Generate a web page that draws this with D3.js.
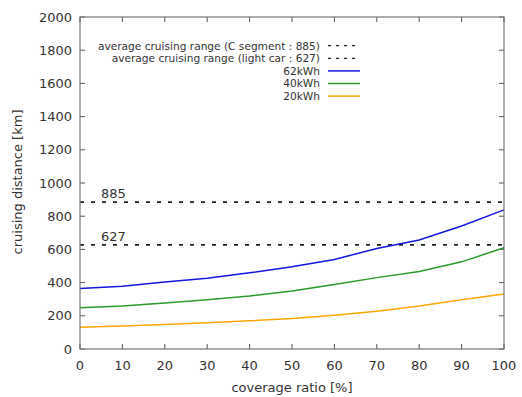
<!DOCTYPE html>
<html>
<head>
<meta charset="utf-8">
<script src="https://cdn.jsdelivr.net/npm/d3@7"></script>
<style>
  body { margin: 0; background: #fff; }
  text { font-family: "DejaVu Sans", sans-serif; fill: #333; }
</style>
</head>
<body>
<svg></svg>
<script>
// data
var coverage = [0, 10, 20, 30, 40, 50, 60, 70, 80, 90, 100];
var kwh62 = [364, 378, 404, 426, 459, 495, 539, 606, 657, 741, 838];
var kwh40 = [248, 259, 277, 297, 319, 349, 388, 430, 467, 525, 610];
var kwh20 = [131, 139, 147, 158, 170, 184, 204, 228, 259, 297, 331];
var refValues = [885, 627];
var refLabels = ["average cruising range (C segment : 885)", "average cruising range (light car : 627)"];
var seriesNames = ["62kWh", "40kWh", "20kWh"];
var seriesColors = ["#1515e0", "#2a9a2a", "#ffa500"];
var xTicks = [0, 10, 20, 30, 40, 50, 60, 70, 80, 90, 100];
var yTicks = [0, 200, 400, 600, 800, 1000, 1200, 1400, 1600, 1800, 2000];

var width = 522, height = 397;
var pLeft = 80, pRight = 504, pTop = 17, pBottom = 349;

var svg = d3.select("svg")
	.attr("width", width)
	.attr("height", height);

var x = d3.scaleLinear().domain([0, 100]).range([pLeft, pRight]);
var y = d3.scaleLinear().domain([0, 2000]).range([pBottom, pTop]);

// ticks, mirrored inward on all four sides
var ticks = svg.append("g").attr("stroke", "#555").attr("stroke-width", 1);
xTicks.forEach(function(t) {
	ticks.append("line").attr("x1", x(t)).attr("x2", x(t)).attr("y1", pBottom).attr("y2", pBottom - 5);
	ticks.append("line").attr("x1", x(t)).attr("x2", x(t)).attr("y1", pTop).attr("y2", pTop + 5);
});
yTicks.forEach(function(t) {
	ticks.append("line").attr("x1", pLeft).attr("x2", pLeft + 5).attr("y1", y(t)).attr("y2", y(t));
	ticks.append("line").attr("x1", pRight).attr("x2", pRight - 5).attr("y1", y(t)).attr("y2", y(t));
});

// tick labels
svg.append("g").selectAll("text")
		.data(xTicks)
	.enter().append("text")
		.attr("x", function(d) { return x(d); })
		.attr("y", 370)
		.attr("text-anchor", "middle")
		.attr("font-size", "13px")
		.text(function(d) { return d; });

svg.append("g").selectAll("text")
		.data(yTicks)
	.enter().append("text")
		.attr("x", 72)
		.attr("y", function(d) { return y(d) + 4.5; })
		.attr("text-anchor", "end")
		.attr("font-size", "13px")
		.text(function(d) { return d; });

// axis titles
svg.append("text")
	.attr("x", (pLeft + pRight) / 2)
	.attr("y", 392)
	.attr("text-anchor", "middle")
	.attr("font-size", "13px")
	.text("coverage ratio [%]");

svg.append("text")
	.attr("transform", "translate(22,182) rotate(-90)")
	.attr("text-anchor", "middle")
	.attr("font-size", "13px")
	.text("cruising distance [km]");

// reference lines
svg.append("g").selectAll("line")
		.data(refValues)
	.enter().append("line")
		.attr("x1", pLeft)
		.attr("x2", pRight)
		.attr("y1", function(d) { return y(d); })
		.attr("y2", function(d) { return y(d); })
		.attr("stroke", "#222")
		.attr("stroke-width", 1.6)
		.attr("stroke-dasharray", "4,7");

svg.append("g").selectAll("text")
		.data(refValues)
	.enter().append("text")
		.attr("x", 101)
		.attr("y", function(d) { return y(d) - 4; })
		.attr("font-size", "13px")
		.text(function(d) { return d; });

// series lines
var seriesData = [kwh62, kwh40, kwh20];
var line = d3.line()
	.x(function(d, i) { return x(coverage[i]); })
	.y(function(d) { return y(d); });

svg.append("g").selectAll("path")
		.data(seriesData)
	.enter().append("path")
		.attr("d", line)
		.attr("fill", "none")
		.attr("stroke", function(d, i) { return seriesColors[i]; })
		.attr("stroke-width", 1.5);

// frame
svg.append("rect")
	.attr("x", pLeft)
	.attr("y", pTop)
	.attr("width", pRight - pLeft)
	.attr("height", pBottom - pTop)
	.attr("fill", "none")
	.attr("stroke", "#777")
	.attr("stroke-width", 1.2);

// legend
var legend = svg.append("g").attr("class", "legend");
var entries = refLabels.map(function(l) { return { label: l, color: "#222", dash: "3,5" }; })
	.concat(seriesNames.map(function(n, i) { return { label: n, color: seriesColors[i], dash: null }; }));

entries.forEach(function(e, i) {
	var ly = 45.7 + i * 12.6;
	legend.append("text")
		.attr("x", 320)
		.attr("y", ly + 3.8)
		.attr("text-anchor", "end")
		.attr("font-size", "10.6px")
		.text(e.label);
	legend.append("line")
		.attr("x1", 328)
		.attr("x2", 360)
		.attr("y1", ly)
		.attr("y2", ly)
		.attr("stroke", e.color)
		.attr("stroke-width", e.dash ? 1.3 : 1.5)
		.attr("stroke-dasharray", e.dash);
});
</script>
</body>
</html>
